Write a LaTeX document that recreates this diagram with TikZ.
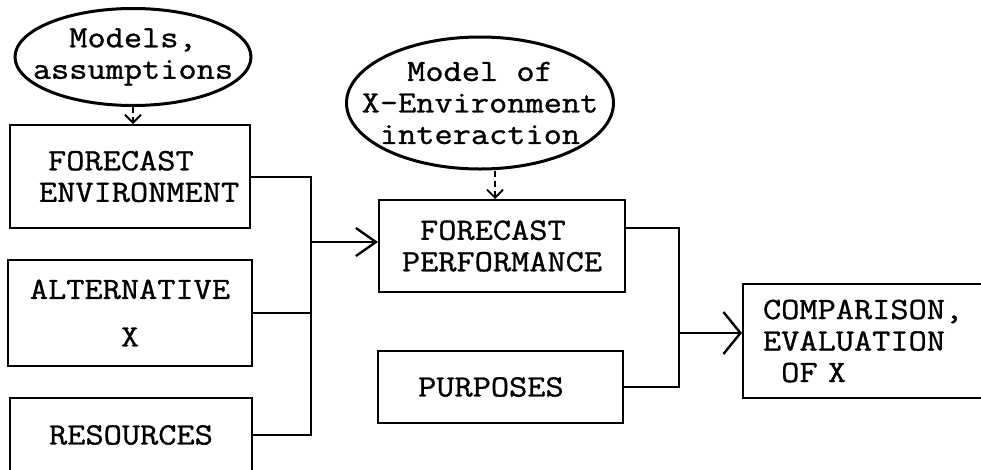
\documentclass[tikz,border=0pt]{standalone}
\usepackage{fontspec}
\setmainfont{Latin Modern Mono}[FakeStretch=1.14,FakeBold=1]
\usetikzlibrary{shapes.geometric,arrows.meta}
\begin{document}
\begin{tikzpicture}[x=1pt,y=-1pt,
  every node/.style={font=\fontsize{31}{31.5}\selectfont, inner sep=0pt},
  boxnode/.style={draw, line width=2pt, align=center},
  bubble/.style={draw, ellipse, line width=3pt, align=center, inner ysep=0pt},
  wire/.style={line width=2pt},
  barbA/.style={line width=2pt, -{Straight Barb[length=20pt,width=28pt,line width=2.4pt]}},
  barbB/.style={line width=2pt, -{Straight Barb[length=17pt,width=42pt,line width=2.4pt]}},
  dasharrow/.style={line width=2pt, dash pattern=on 6pt off 4pt, -{Straight Barb[length=8pt,width=16pt,line width=1.8pt]}}
]
\useasboundingbox (0,0) rectangle (981,469);
\clip (0,0) rectangle (981,469);
\fill[white] (0,0) rectangle (981,469);

% left column
\node[bubble, inner xsep=-28pt, minimum width=236pt, minimum height=97pt] (e1) at (133,57) {Models,\\assumptions};
\node[boxnode, minimum width=240pt, minimum height=103pt] (fe) at (130,176.5) {FORECAST\phantom{X}\\\phantom{X}ENVIRONMENT};
\node[boxnode, minimum width=244pt, minimum height=106pt] (alt) at (130,313) {ALTERNATIVE\\[16pt]X};
\node[boxnode, minimum width=242pt, minimum height=74pt] (res) at (131,435) {RESOURCES};

% middle column
\node[bubble, inner xsep=-38pt, minimum width=267pt, minimum height=132pt] (e2) at (480,103) {Model of\\X-Environment\\interaction};
\node[boxnode, minimum width=246pt, minimum height=92pt] (fp) at (502,246) {FORECAST\phantom{X}\\PERFORMANCE};
\node[boxnode, minimum width=245pt, minimum height=72pt] (pur) at (500,387) {PURPOSES\phantom{X}};

% right
\node[boxnode, anchor=west, minimum height=114pt, text width=220pt, align=left, inner xsep=20pt] (cmp) at (742,341) {COMPARISON,\\EVALUATION\\\phantom{X}OF X};

% junctions
\coordinate (j1) at (311,242);
\coordinate (j2) at (679,333);

% dashed inputs
\draw[dasharrow] (e1.south) -- (fe.north -| e1.south);
\draw[dasharrow] ([xshift=-7pt]fp.north |- e2.south) -- ([xshift=-7pt]fp.north);

% merge 1
\draw[wire] (fe.east) -| (j1 |- res.east) -- (res.east);
\draw[wire] (alt.east) -- (alt.east -| j1);
\draw[barbA] (j1) -- (j1 -| fp.west);

% merge 2
\draw[wire] ([yshift=18pt]fp.east) -| (j2 |- pur.east) -- (pur.east);
\draw[barbB] (j2) -- (j2 -| cmp.west);
\end{tikzpicture}
\end{document}
